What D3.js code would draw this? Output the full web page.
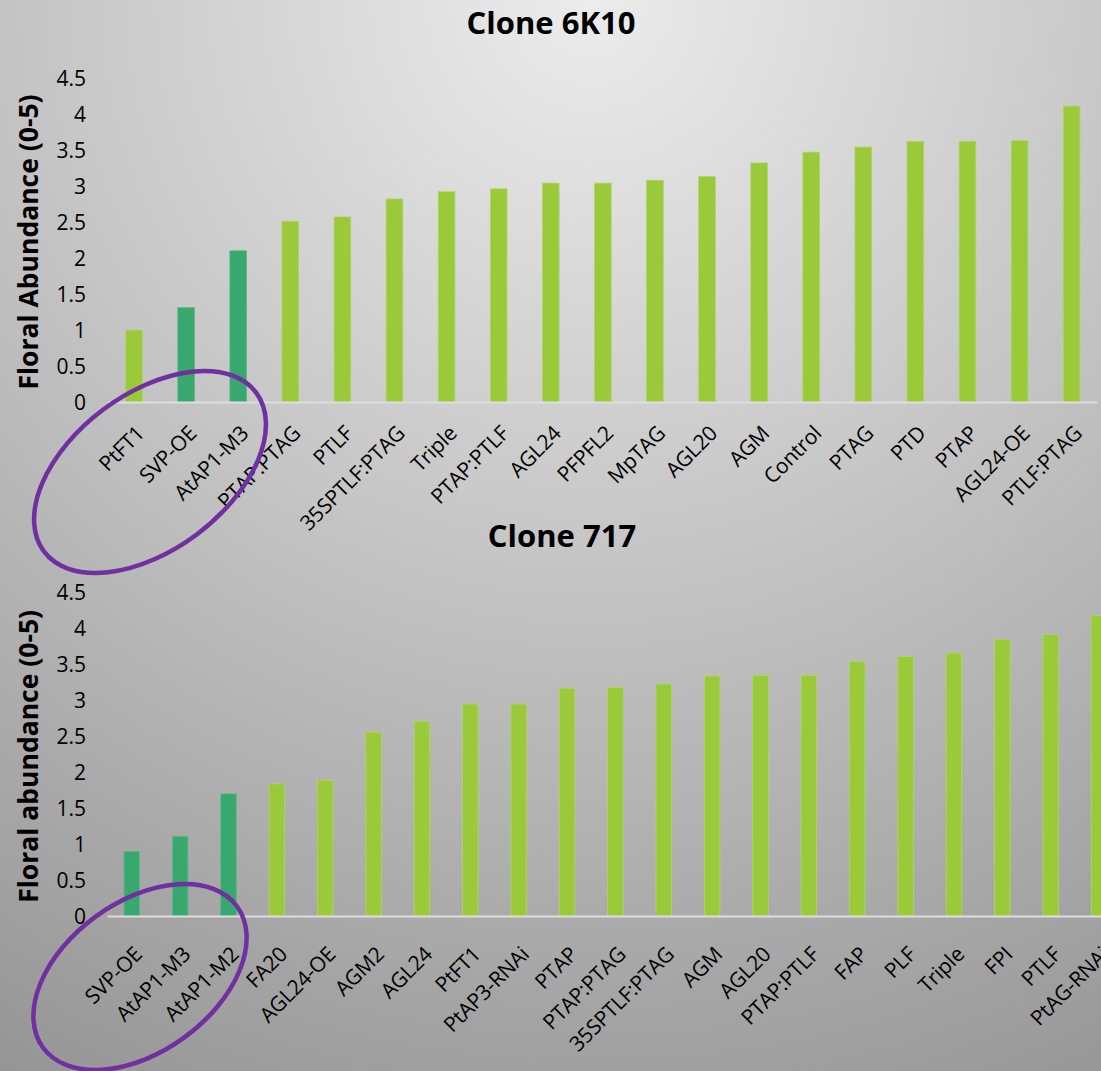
<!DOCTYPE html>
<html>
<head>
<meta charset="utf-8">
<script src="https://d3js.org/d3.v7.min.js"></script>
<style>
  html, body { margin: 0; padding: 0; overflow: hidden; }
  svg { display: block; }
  text { font-family: "Open Sans", "Noto Sans", sans-serif; fill: #000; }
</style>
</head>
<body>
<script>
// Clone 6K10 floral abundance scores (0-5 scale)
const clone6K10Categories = ["PtFT1", "SVP-OE", "AtAP1-M3", "PTAP:PTAG", "PTLF", "35SPTLF:PTAG", "Triple",
  "PTAP:PTLF", "AGL24", "PFPFL2", "MpTAG", "AGL20", "AGM", "Control", "PTAG", "PTD", "PTAP", "AGL24-OE", "PTLF:PTAG"];
const clone6K10Values = [1.00, 1.31, 2.10, 2.51, 2.57, 2.82, 2.92, 2.96, 3.04, 3.04, 3.08, 3.13, 3.32, 3.47, 3.54,
  3.62, 3.62, 3.63, 4.11];
const clone6K10Highlighted = ["SVP-OE", "AtAP1-M3"];

// Clone 717 floral abundance scores (0-5 scale)
const clone717Categories = ["SVP-OE", "AtAP1-M3", "AtAP1-M2", "FA20", "AGL24-OE", "AGM2", "AGL24", "PtFT1",
  "PtAP3-RNAi", "PTAP", "PTAP:PTAG", "35SPTLF:PTAG", "AGM", "AGL20", "PTAP:PTLF", "FAP", "PLF", "Triple", "FPI",
  "PTLF", "PtAG-RNAi"];
const clone717Values = [0.90, 1.11, 1.70, 1.84, 1.89, 2.56, 2.71, 2.95, 2.95, 3.17, 3.18, 3.23, 3.34, 3.35, 3.35,
  3.54, 3.61, 3.66, 3.85, 3.92, 4.18];
const clone717Highlighted = ["SVP-OE", "AtAP1-M3", "AtAP1-M2"];

const yTickValues = [0, 0.5, 1, 1.5, 2, 2.5, 3, 3.5, 4, 4.5];

const W = 1101, H = 1071;
const LIME = "#9aca3a", TEAL = "#38a86f", PURPLE = "#7030a0";

const svg = d3.select("body").append("svg").attr("width", W).attr("height", H);

// soft radial background
const defs = svg.append("defs");
const grad = defs.append("radialGradient").attr("id", "bg")
  .attr("gradientUnits", "userSpaceOnUse")
  .attr("cx", 590).attr("cy", 0).attr("r", 1250);
grad.append("stop").attr("offset", 0).attr("stop-color", "#ececec");
grad.append("stop").attr("offset", 0.45).attr("stop-color", "#c5c5c5");
grad.append("stop").attr("offset", 1).attr("stop-color", "#939393");
svg.append("rect").attr("width", W).attr("height", H).attr("fill", "url(#bg)");

function drawPanel(cfg) {
  const g = svg.append("g");
  const x = d3.scaleBand().domain(cfg.categories).range(cfg.xRange)
    .paddingInner(0.68).paddingOuter(0.34);
  const y = d3.scaleLinear().domain([0, 4.5]).range([cfg.y0, cfg.y45]);

  // title
  g.append("text").attr("x", cfg.titleX).attr("y", cfg.titleY)
    .attr("text-anchor", "middle").attr("font-size", 31).attr("font-weight", 700)
    .text(cfg.title);

  // y-axis title
  g.append("text")
    .attr("transform", `translate(${cfg.yTitleX},${(cfg.y0 + cfg.y45) / 2 + 2}) rotate(-90)`)
    .attr("text-anchor", "middle").attr("font-size", 26.5).attr("font-weight", 700)
    .text(cfg.yTitle);

  // bars
  const data = cfg.categories.map((c, i) => ({ c, v: cfg.values[i] }));
  g.selectAll("rect.bar").data(data).join("rect").attr("class", "bar")
    .attr("x", d => x(d.c)).attr("width", x.bandwidth())
    .attr("y", d => y(d.v)).attr("height", d => y(0) - y(d.v))
    .attr("fill", d => cfg.highlighted.includes(d.c) ? TEAL : LIME)
    .attr("stroke", d => cfg.highlighted.includes(d.c) ? "#5cb888" : "#aed567")
    .attr("stroke-width", 0.8);

  // y axis (labels only)
  const yAxis = d3.axisLeft(y).tickValues(yTickValues).tickSize(0).tickPadding(0)
    .tickFormat(d3.format("~g"));
  const ya = g.append("g").attr("transform", `translate(86,0)`).call(yAxis);
  ya.select(".domain").remove();
  ya.selectAll("text").attr("font-size", 21).attr("fill", "#000")
    .attr("font-family", "'Open Sans', sans-serif").attr("dy", "0.34em");

  // baseline
  g.append("line").attr("x1", cfg.xRange[0]).attr("x2", Math.min(cfg.xRange[1], W))
    .attr("y1", y(0) + 0.5).attr("y2", y(0) + 0.5)
    .attr("stroke", "#dedede").attr("stroke-width", 2);

  // rotated category labels
  g.selectAll("text.cat").data(cfg.categories).join("text").attr("class", "cat")
    .attr("transform", d => `translate(${x(d) + x.bandwidth() / 2 + cfg.labelShift},${y(0) + cfg.labelDrop}) rotate(-45)`)
    .attr("text-anchor", "end").attr("dominant-baseline", "central")
    .attr("font-size", 21).attr("letter-spacing", "-0.2px").text(d => d);

  return g;
}

drawPanel({
  title: "Clone 6K10", titleX: 551, titleY: 34,
  yTitle: "Floral Abundance (0-5)", yTitleX: 38,
  categories: clone6K10Categories, values: clone6K10Values, highlighted: clone6K10Highlighted,
  xRange: [108, 1097.7], y0: 402, y45: 78, labelDrop: 27, labelShift: 6
});

drawPanel({
  title: "Clone 717", titleX: 562, titleY: 547,
  yTitle: "Floral abundance (0-5)", yTitleX: 38,
  categories: clone717Categories, values: clone717Values, highlighted: clone717Highlighted,
  xRange: [107.6, 1123.2], y0: 916, y45: 592.7, labelDrop: 34, labelShift: 6
});

// hand-drawn emphasis rings around the lowest-scoring lines
const rings = [
  { cx: 150, cy: 472, rx: 132.5, ry: 78, angle: -36.8 },
  { cx: 140, cy: 977, rx: 120, ry: 75, angle: -36 }
];
svg.selectAll("ellipse.ring").data(rings).join("ellipse").attr("class", "ring")
  .attr("cx", 0).attr("cy", 0).attr("rx", d => d.rx).attr("ry", d => d.ry)
  .attr("transform", d => `translate(${d.cx},${d.cy}) rotate(${d.angle})`)
  .attr("fill", "none").attr("stroke", PURPLE).attr("stroke-width", 4.5);
</script>
</body>
</html>
